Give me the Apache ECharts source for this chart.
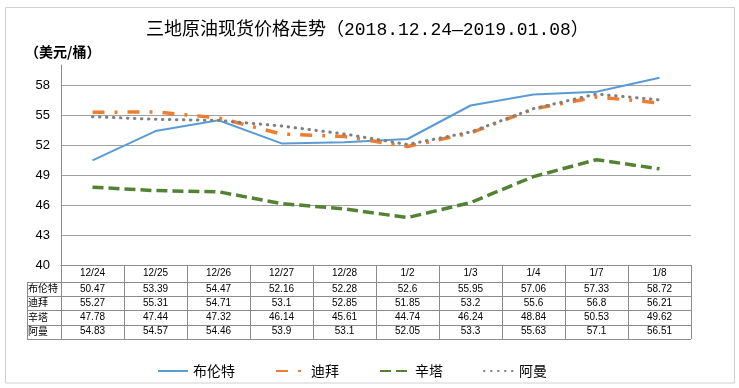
<!DOCTYPE html>
<html>
<head>
<meta charset="utf-8">
<script src="https://cdn.jsdelivr.net/npm/echarts@6/dist/echarts.min.js"></script>
<style>html,body{margin:0;padding:0;background:#fff}#c{width:739px;height:388px}</style>
</head>
<body>
<div id="c"></div>
<script>
var categories = ['12/24','12/25','12/26','12/27','12/28','1/2','1/3','1/4','1/7','1/8'];
var seriesNames = ['布伦特','迪拜','辛塔','阿曼'];
var brent = [50.47,53.39,54.47,52.16,52.28,52.6,55.95,57.06,57.33,58.72];
var dubai = [55.27,55.31,54.71,53.1,52.85,51.85,53.2,55.6,56.8,56.21];
var xinta = [47.78,47.44,47.32,46.14,45.61,44.74,46.24,48.84,50.53,49.62];
var oman  = [54.83,54.57,54.46,53.9,53.1,52.05,53.3,55.63,57.1,56.51];
var yMin = 40, yMax = 60, yStep = 3;

var allData = [brent, dubai, xinta, oman];
var GL = 61, GR = 691, GT = 65, GB = 265;
var HEAD_H = 17, ROW_H = 14.2;
var LABEL_X = 27;
var tableColor = '#8c8c8c';

var chart = echarts.init(document.getElementById('c'), null, {renderer:'canvas'});

var graphics = [];
graphics.push({type:'rect', shape:{x:5.5,y:7.5,width:729,height:375.5}, style:{fill:'none', stroke:'#d0d0d0', lineWidth:1}, silent:true});
for (var i = 0; i <= seriesNames.length; i++) {
  var y = Math.round(GB + HEAD_H + i*ROW_H) + 0.5;
  graphics.push({type:'line', shape:{x1:LABEL_X, y1:y, x2:GR, y2:y}, style:{stroke:tableColor, lineWidth:1}, silent:true});
}
var tableBottom = Math.round(GB + HEAD_H + seriesNames.length*ROW_H) + 0.5;
graphics.push({type:'line', shape:{x1:LABEL_X+0.5, y1:GB+HEAD_H, x2:LABEL_X+0.5, y2:tableBottom}, style:{stroke:tableColor, lineWidth:1}, silent:true});
for (var i = 0; i < seriesNames.length; i++) {
  graphics.push({type:'text', left: LABEL_X+1, top: GB+HEAD_H+i*ROW_H+1.5,
    style:{text: seriesNames[i], font:'10px "Noto Sans CJK SC"', fill:'#000'}, silent:true});
}
graphics.push({type:'text', left:25, top:45, style:{text:'（美元/桶）', font:'bold 14px "Noto Sans CJK SC"', fill:'#000'}, silent:true});

var rich = {
  h:{fontSize:10, lineHeight:HEAD_H, color:'#000', fontFamily:'"Liberation Sans", Arial'},
  r:{fontSize:10, lineHeight:ROW_H, color:'#000', fontFamily:'"Liberation Sans", Arial'}
};

var colors = ['#5B9BD5','#ED7D31','#548235','#7F7F7F'];
var styles = [
  {width:2, type:'solid'},
  {width:3.5, type:[12,10,3,10], cap:'butt'},
  {width:3.5, type:[11,5], cap:'butt'},
  {width:3, type:[0.5,6.5], cap:'round'}
];

var option = {
  animation:false,
  title:{text:'三地原油现货价格走势（2018.12.24—2019.01.08）', left:141, top:16,
    textStyle:{fontSize:18, fontWeight:'normal', color:'#000', fontFamily:'"Liberation Mono", "Noto Sans CJK SC"'}},
  legend:{left:152, top:359, itemWidth:30, itemHeight:14, itemGap:40,
    itemStyle:{opacity:0},
    textStyle:{fontSize:14, color:'#000', fontFamily:'"Noto Sans CJK SC"'},
    data: seriesNames},
  grid:{left:GL, right:739-GR, top:GT, bottom:388-GB, containLabel:false},
  xAxis:{type:'category', data:categories, boundaryGap:true,
    axisLine:{lineStyle:{color:tableColor, width:1}},
    axisTick:{show:true, interval:0, length:tableBottom-GB-0.5, inside:false, lineStyle:{color:tableColor}},
    axisLabel:{interval:0, margin:0, rich:rich,
      formatter:function(v, idx){
        var s = '{h|' + v + '}';
        for (var k = 0; k < allData.length; k++) s += '\n{r|' + allData[k][idx] + '}';
        return s;
      }}
  },
  yAxis:{type:'value', min:yMin, max:yMax, interval:yStep,
    axisLine:{show:true, lineStyle:{color:tableColor}},
    axisTick:{show:false},
    axisLabel:{showMaxLabel:false, fontSize:13, color:'#000', margin:11, fontFamily:'"Liberation Sans", Arial'},
    splitLine:{show:true, showMaxLine:false, showMinLine:false, lineStyle:{color:'#a0a0a0', width:1}}
  },
  series: seriesNames.map(function(n, i){
    return {name:n, type:'line', data:allData[i], symbol:'none', smooth:false,
      itemStyle:{color:colors[i]},
      lineStyle:{color:colors[i], width:styles[i].width, type:styles[i].type, cap:styles[i].cap || 'butt'}};
  }),
  graphic: graphics
};
chart.setOption(option);
</script>
</body>
</html>
